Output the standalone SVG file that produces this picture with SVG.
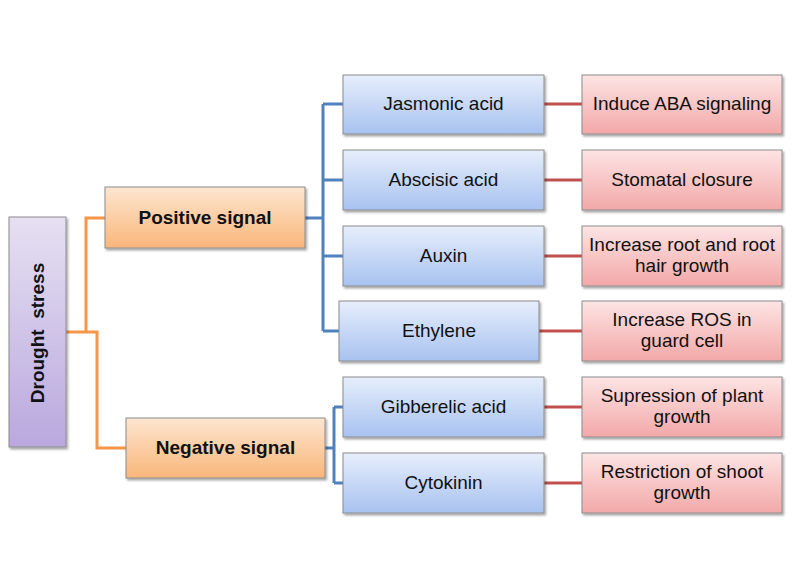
<svg xmlns="http://www.w3.org/2000/svg" width="802" height="588" viewBox="0 0 802 588">
<defs>
<linearGradient id="gPurple" x1="0" y1="0" x2="0" y2="1"><stop offset="0" stop-color="#e6e0f2"/><stop offset="1" stop-color="#b9a8de"/></linearGradient>
<linearGradient id="gOrange" x1="0" y1="0" x2="0" y2="1"><stop offset="0" stop-color="#fde6d0"/><stop offset="1" stop-color="#f9b67a"/></linearGradient>
<linearGradient id="gBlue" x1="0" y1="0" x2="0" y2="1"><stop offset="0" stop-color="#e6eefb"/><stop offset="1" stop-color="#a8c2f0"/></linearGradient>
<linearGradient id="gRed" x1="0" y1="0" x2="0" y2="1"><stop offset="0" stop-color="#fde4e4"/><stop offset="1" stop-color="#f3a8a8"/></linearGradient>
<filter id="sh" x="-10%" y="-10%" width="130%" height="130%"><feDropShadow dx="1.5" dy="2" stdDeviation="1.2" flood-color="#000" flood-opacity="0.35"/></filter>
</defs>
<style>
.box{stroke:#8c8c8c;stroke-width:1;filter:url(#sh)}
.p{fill:url(#gPurple)}.o{fill:url(#gOrange)}.b{fill:url(#gBlue)}.r{fill:url(#gRed)}
text{font-family:"Liberation Sans",Arial,sans-serif;font-size:19px;fill:#111;text-anchor:middle}
.bold{font-weight:bold}
.c{fill:none;stroke-width:3}
.co{stroke:#f79646}.cb{stroke:#4f81bd}.cr{stroke:#c0504d}
</style>
<rect width="802" height="588" fill="#fff"/>
<g id="connectors">
<path class="c co" d="M66,332 H86 V218 H105 M86,332 H97 V448 H126"/>
<path class="c cb" d="M305,218 H323 M323,104 V331 M323,104 H343 M323,180 H343 M323,256 H343 M323,331 H339"/>
<path class="c cb" d="M325,448 H334 M334,407 V483 M334,407 H343 M334,483 H343"/>
<path class="c cr" d="M544,104 H582 M544,180 H582 M544,256 H582 M539,331 H582 M544,407 H582 M544,483 H582"/>
</g>
<g id="drought"><rect class="box p" x="9" y="217" width="57" height="230"/><text class="bold" transform="translate(44,333) rotate(-90)" xml:space="preserve">Drought  stress</text></g>
<g id="positive"><rect class="box o" x="105" y="187" width="200" height="61"/><text class="bold" x="205" y="224">Positive signal</text></g>
<g id="negative"><rect class="box o" x="126" y="418" width="199" height="60"/><text class="bold" x="225.5" y="454">Negative signal</text></g>
<g id="jasmonic"><rect class="box b" x="343" y="75" width="201" height="59"/><text x="443.5" y="110">Jasmonic acid</text></g>
<g id="abscisic"><rect class="box b" x="343" y="150" width="201" height="60"/><text x="443.5" y="186">Abscisic acid</text></g>
<g id="auxin"><rect class="box b" x="343" y="226" width="201" height="60"/><text x="443.5" y="262">Auxin</text></g>
<g id="ethylene"><rect class="box b" x="339" y="301" width="200" height="60"/><text x="439" y="337">Ethylene</text></g>
<g id="gibberelic"><rect class="box b" x="343" y="377" width="201" height="60"/><text x="443.5" y="413">Gibberelic acid</text></g>
<g id="cytokinin"><rect class="box b" x="343" y="453" width="201" height="60"/><text x="443.5" y="489">Cytokinin</text></g>
<g id="induce"><rect class="box r" x="582" y="75" width="200" height="59"/><text x="682" y="110">Induce ABA signaling</text></g>
<g id="stomatal"><rect class="box r" x="582" y="150" width="200" height="60"/><text x="682" y="186">Stomatal closure</text></g>
<g id="root"><rect class="box r" x="582" y="226" width="200" height="60"/><text x="682" y="251">Increase root and root</text><text x="682" y="272">hair growth</text></g>
<g id="ros"><rect class="box r" x="582" y="301" width="200" height="60"/><text x="682" y="326">Increase ROS in</text><text x="682" y="347">guard cell</text></g>
<g id="supression"><rect class="box r" x="582" y="377" width="200" height="60"/><text x="682" y="402">Supression of plant</text><text x="682" y="423">growth</text></g>
<g id="restriction"><rect class="box r" x="582" y="453" width="200" height="60"/><text x="682" y="478">Restriction of shoot</text><text x="682" y="499">growth</text></g>
</svg>
